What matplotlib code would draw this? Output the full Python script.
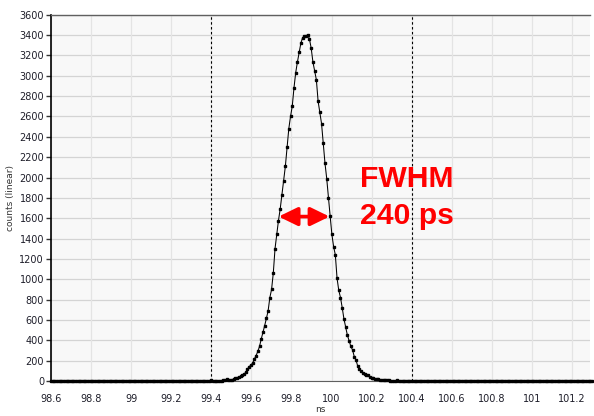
import numpy as np
import matplotlib
matplotlib.use("Agg")
import matplotlib.pyplot as plt
from matplotlib.patches import FancyArrowPatch
from matplotlib.ticker import FixedLocator, FuncFormatter

# ---- data ----
t_start = 98.6          # ns, first bin
bin_width = 0.0086      # ns
counts = [
    0, 0, 0, 0, 0, 0, 0, 0, 0, 0, 0, 0, 0, 0, 0, 0, 0, 0, 0, 0,
    0, 0, 0, 0, 0, 0, 0, 0, 0, 0, 0, 0, 0, 0, 0, 0, 0, 0, 0, 0,
    0, 0, 0, 0, 0, 0, 0, 0, 0, 0, 0, 0, 0, 0, 0, 0, 0, 0, 0, 0,
    0, 0, 0, 0, 0, 0, 0, 0, 0, 0, 0, 0, 0, 0, 0, 0, 0, 0, 0, 0,
    0, 0, 0, 0, 0, 0, 0, 0, 0, 0, 0, 0, 0,
    8, 0, 0, 2, 0, 3, 3, 5, 8, 15, 10, 12, 10, 22, 27, 33, 40, 45, 55, 66,
    85, 118, 140, 158, 175, 215, 250, 290, 340, 412, 478, 545, 615, 690, 820, 900, 1060, 1300, 1440, 1577,
    1690, 1830, 1965, 2110, 2300, 2480, 2600, 2700, 2880, 3030, 3135, 3230, 3320, 3375, 3386, 3393, 3403, 3360, 3270, 3135,
    3050, 2960, 2750, 2640, 2530, 2340, 2140, 1990, 1800, 1620, 1440, 1321, 1240, 1010, 890, 820, 720, 610, 530, 450,
    395, 340, 305, 239, 207, 145, 115, 95, 82, 72, 63, 55, 40, 33, 28, 24, 20, 15, 12, 10,
    8, 6, 5, 5, 3, 2, 3, 2, 10, 2, 1, 0,
    0, 0, 0, 0, 0, 0, 0, 0, 0, 0, 0, 0, 0, 0, 0, 0, 0, 0, 0, 0,
    0, 0, 0, 0, 0, 0, 0, 0, 0, 0, 0, 0, 0, 0, 0, 0, 0, 0, 0, 0,
    0, 0, 0, 0, 0, 0, 0, 0, 0, 0, 0, 0, 0, 0, 0, 0, 0, 0, 0, 0,
    0, 0, 0, 0, 0, 0, 0, 0, 0, 0, 0, 0, 0, 0, 0, 0, 0, 0, 0, 0,
    0, 0, 0, 0, 0, 0, 0, 0, 0, 0, 0, 0, 0, 0, 0, 0, 0, 0, 0, 0,
    0, 0, 0, 0, 0, 0, 0, 0, 0, 0,
]
x_ticks = [98.6, 98.8, 99.0, 99.2, 99.4, 99.6, 99.8, 100.0, 100.2, 100.4, 100.6, 100.8, 101.0, 101.2]
y_ticks = list(range(0, 3601, 200))
marker_lines = [99.4, 100.4]
fwhm_left, fwhm_right, fwhm_level = 99.736, 99.990, 1616
annot_lines = ["FWHM", "240 ps"]

times = t_start + bin_width * np.arange(len(counts))

# ---- figure ----
W, H = 594, 416
fig = plt.figure(figsize=(W / 100, H / 100), dpi=100)
L, R, T, B = 51, 590, 14.7, 381
ax = fig.add_axes([L / W, 1 - B / H, (R - L) / W, (B - T) / H])
ax.set_facecolor("#f8f8f8")

ax.set_xlim(98.6, 101.29)
ax.set_ylim(0, 3600)

ax.xaxis.set_major_locator(FixedLocator(x_ticks))
ax.yaxis.set_major_locator(FixedLocator(y_ticks))
ax.xaxis.set_major_formatter(FuncFormatter(lambda v, p: f"{v:g}"))
ax.yaxis.set_major_formatter(FuncFormatter(lambda v, p: f"{int(v)}"))

for yv in y_ticks:
    ax.axhline(yv, color="#d4d4d4", lw=0.9, zorder=0)
for xv in x_ticks:
    ax.axvline(xv, color="#e4e4e4", lw=0.9, zorder=0)

for xv in marker_lines:
    ax.axvline(xv, color="black", lw=0.8, ls=(0, (2.2, 2.2)), zorder=2)

ax.plot(times, counts, color="black", lw=0.75, marker="s", ms=1.8,
        mec="black", mfc="black", zorder=3, clip_on=False)

ax.tick_params(axis="y", length=3.5, width=1, color="#333333",
               labelsize=7, labelcolor="#1e1e2a", pad=1.5)
ax.tick_params(axis="x", length=0, labelsize=7, labelcolor="#1e1e2a", pad=9.5)

ax.spines["right"].set_visible(False)
ax.spines["left"].set_color("black")
ax.spines["left"].set_linewidth(1.2)
ax.spines["top"].set_color("#606060")
ax.spines["top"].set_linewidth(1.0)
ax.spines["bottom"].set_color("#606060")
ax.spines["bottom"].set_linewidth(0.8)

ax.set_xlabel("ns", fontsize=6.5, color="#333333", labelpad=0.5)
ax.set_ylabel("counts (linear)", fontsize=6.5, color="#333333", labelpad=3)

# FWHM arrow
arrow = FancyArrowPatch((fwhm_left, fwhm_level), (fwhm_right, fwhm_level),
                        arrowstyle="<|-|>,head_length=11.5,head_width=5.6",
                        color="#ff0000", lw=2.6, shrinkA=0, shrinkB=0,
                        mutation_scale=1, zorder=5)
ax.add_patch(arrow)

fig.text(360 / W, 1 - 187 / H, annot_lines[0], color="#ff0000", fontsize=21.7,
         fontweight="bold", family="Liberation Sans", va="baseline", ha="left")
fig.text(360 / W, 1 - 224 / H, annot_lines[1], color="#ff0000", fontsize=21.7,
         fontweight="bold", family="Liberation Sans", va="baseline", ha="left")

fig.savefig("out.png", dpi=100)
